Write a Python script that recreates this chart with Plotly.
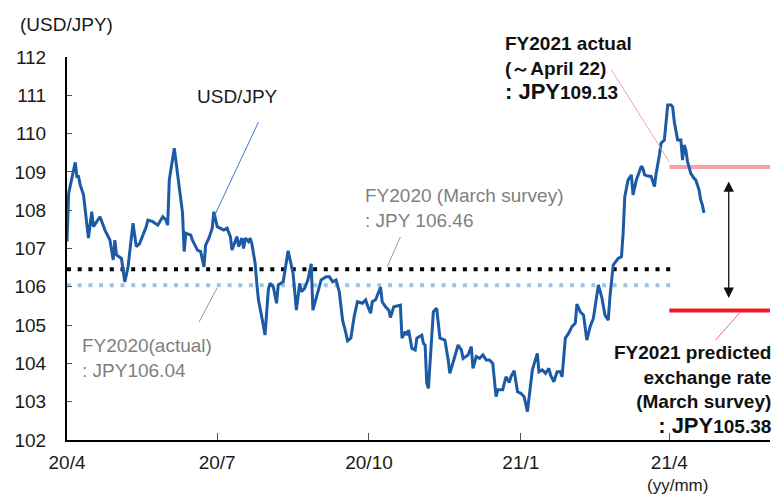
import plotly.graph_objects as go

# Daily USD/JPY rate, April 2020 - April 2021
dates = [
    "2020-04-01", "2020-04-02", "2020-04-06", "2020-04-07", "2020-04-08", "2020-04-09", "2020-04-11",
    "2020-04-14", "2020-04-16", "2020-04-17", "2020-04-21", "2020-04-24", "2020-04-27", "2020-04-29",
    "2020-04-30", "2020-05-01", "2020-05-04", "2020-05-06", "2020-05-08", "2020-05-11", "2020-05-13",
    "2020-05-15", "2020-05-19", "2020-05-20", "2020-05-23", "2020-05-26", "2020-05-29", "2020-05-31",
    "2020-06-01", "2020-06-02", "2020-06-05", "2020-06-07", "2020-06-10", "2020-06-11", "2020-06-12",
    "2020-06-15", "2020-06-16", "2020-06-18", "2020-06-19", "2020-06-21", "2020-06-23", "2020-06-24",
    "2020-06-26", "2020-06-28", "2020-06-29", "2020-07-01", "2020-07-03", "2020-07-05", "2020-07-07",
    "2020-07-09", "2020-07-10", "2020-07-12", "2020-07-13", "2020-07-14", "2020-07-16", "2020-07-17",
    "2020-07-18", "2020-07-20", "2020-07-21", "2020-07-22", "2020-07-24", "2020-07-25", "2020-07-26",
    "2020-07-28", "2020-07-30", "2020-08-01", "2020-08-02", "2020-08-04", "2020-08-06", "2020-08-07",
    "2020-08-10", "2020-08-13", "2020-08-16", "2020-08-18", "2020-08-20", "2020-08-21", "2020-08-23",
    "2020-08-25", "2020-08-27", "2020-08-28", "2020-08-31", "2020-09-02", "2020-09-05", "2020-09-07",
    "2020-09-09", "2020-09-11", "2020-09-13", "2020-09-15", "2020-09-17", "2020-09-18", "2020-09-20",
    "2020-09-22", "2020-09-24", "2020-09-27", "2020-09-29", "2020-09-30", "2020-10-02", "2020-10-03",
    "2020-10-05", "2020-10-06", "2020-10-08", "2020-10-09", "2020-10-11", "2020-10-13", "2020-10-14",
    "2020-10-16", "2020-10-20", "2020-10-21", "2020-10-23", "2020-10-24", "2020-10-25", "2020-10-27",
    "2020-10-29", "2020-10-30", "2020-11-02", "2020-11-03", "2020-11-04", "2020-11-05", "2020-11-06",
    "2020-11-09", "2020-11-11", "2020-11-13", "2020-11-16", "2020-11-18", "2020-11-19", "2020-11-22",
    "2020-11-24", "2020-11-26", "2020-11-27", "2020-11-30", "2020-12-02", "2020-12-03", "2020-12-05",
    "2020-12-07", "2020-12-09", "2020-12-11", "2020-12-13", "2020-12-15", "2020-12-17", "2020-12-18",
    "2020-12-21", "2020-12-23", "2020-12-25", "2020-12-26", "2020-12-28", "2020-12-30", "2021-01-01",
    "2021-01-03", "2021-01-05", "2021-01-08", "2021-01-11", "2021-01-12", "2021-01-14", "2021-01-16",
    "2021-01-18", "2021-01-19", "2021-01-21", "2021-01-23", "2021-01-25", "2021-01-26", "2021-01-28",
    "2021-01-30", "2021-02-01", "2021-02-03", "2021-02-04", "2021-02-06", "2021-02-08", "2021-02-10",
    "2021-02-12", "2021-02-14", "2021-02-15", "2021-02-17", "2021-02-19", "2021-02-21", "2021-02-23",
    "2021-02-24", "2021-02-26", "2021-03-01", "2021-03-03", "2021-03-04", "2021-03-05", "2021-03-07",
    "2021-03-09", "2021-03-10", "2021-03-12", "2021-03-15", "2021-03-16", "2021-03-17", "2021-03-19",
    "2021-03-21", "2021-03-23", "2021-03-24", "2021-03-26", "2021-03-27", "2021-03-29", "2021-03-31",
    "2021-04-02", "2021-04-03", "2021-04-04", "2021-04-06", "2021-04-08", "2021-04-09", "2021-04-10",
    "2021-04-11", "2021-04-12", "2021-04-14", "2021-04-16", "2021-04-17", "2021-04-19", "2021-04-20",
    "2021-04-21", "2021-04-22",
]
usdjpy = [
    107.18, 108.44, 109.25, 108.88, 108.88, 108.66, 108.40,
    107.27, 107.96, 107.57, 107.83, 107.48, 107.22, 106.70,
    107.22, 106.83, 106.74, 106.13, 106.52, 107.66, 107.05,
    107.13, 107.57, 107.74, 107.70, 107.61, 107.83, 107.74,
    107.61, 108.79, 109.62, 108.97, 107.93, 106.92, 107.40,
    107.35, 107.22, 107.05, 106.96, 106.92, 106.52, 107.09,
    107.27, 107.53, 107.96, 107.57, 107.53, 107.48, 107.53,
    107.31, 106.96, 107.22, 107.31, 107.05, 107.27, 107.00,
    107.27, 107.18, 107.27, 107.13, 106.61, 106.09, 105.66,
    105.22, 104.74, 105.92, 106.09, 106.00, 105.57, 106.05,
    106.13, 106.94, 106.35, 105.39, 106.09, 105.87, 105.96,
    106.18, 106.60, 105.39, 105.87, 106.18, 106.26, 106.26,
    106.13, 106.18, 105.87, 105.13, 104.79, 104.59, 104.66,
    105.22, 105.61, 105.57, 105.66, 105.52, 105.31, 105.61,
    105.66, 105.79, 105.99, 105.61, 105.48, 105.39, 105.20,
    105.48, 105.52, 104.66, 104.83, 104.74, 104.87, 104.39,
    104.35, 104.66, 104.74, 104.52, 104.48, 103.48, 103.35,
    105.35, 105.44, 104.66, 104.61, 104.09, 103.74, 104.18,
    104.48, 104.35, 104.13, 104.22, 104.44, 103.87, 104.18,
    104.13, 104.22, 104.09, 104.09, 104.00, 103.13, 103.31,
    103.31, 103.65, 103.50, 103.65, 103.81, 103.26, 103.22,
    103.13, 102.74, 103.83, 104.26, 103.78, 103.83, 103.74,
    103.87, 103.70, 103.52, 103.78, 103.78, 103.65, 104.66,
    104.79, 104.96, 105.05, 105.55, 105.35, 105.26, 104.61,
    104.96, 105.18, 105.48, 106.05, 105.74, 105.26, 105.13,
    105.74, 106.57, 106.74, 106.79, 107.40, 108.35, 108.79,
    108.92, 108.40, 108.79, 109.15, 109.09, 108.92, 108.89,
    108.88, 108.62, 108.96, 109.44, 109.75, 109.83, 110.75,
    110.75, 110.70, 110.31, 109.83, 109.83, 109.31, 109.70,
    109.57, 109.27, 108.96, 108.83, 108.79, 108.53, 108.27,
    108.14, 107.93,
]

# Reference rates
fy2020_march_survey = 106.46
fy2020_actual = 106.04
fy2021_actual = 109.13
fy2021_predicted = 105.38

# Axis ticks
x_tickvals = ["2020-04-01", "2020-07-01", "2020-10-01", "2021-01-01", "2021-04-01"]
x_ticktext = ["20/4", "20/7", "20/10", "21/1", "21/4"]
y_tickvals = [102, 103, 104, 105, 106, 107, 108, 109, 110, 111, 112]

X_START = "2020-04-01"
X_END = "2021-06-01"
REF_END = "2021-04-04"
FY21_START = "2021-04-01"

FONT = "Liberation Sans, Arial, sans-serif"
BLUE = "#1C5AA6"
GRAY = "#7F7F7F"

fig = go.Figure()

# FY2020 reference lines (dotted)
fig.add_trace(go.Scatter(
    x=[X_START, REF_END], y=[fy2020_actual, fy2020_actual], mode="lines",
    line=dict(color="#9DC3E6", width=4, dash="4px,6.7px"), hoverinfo="skip"))
fig.add_trace(go.Scatter(
    x=[X_START, REF_END], y=[fy2020_march_survey, fy2020_march_survey], mode="lines",
    line=dict(color="#000000", width=4, dash="4px,6.7px"), hoverinfo="skip"))

# FY2021 levels
fig.add_trace(go.Scatter(
    x=[FY21_START, X_END], y=[fy2021_actual, fy2021_actual], mode="lines",
    line=dict(color="#F4A3AC", width=4), hoverinfo="skip"))
fig.add_trace(go.Scatter(
    x=[FY21_START, X_END], y=[fy2021_predicted, fy2021_predicted], mode="lines",
    line=dict(color="#EE1C25", width=4), hoverinfo="skip"))

# Exchange rate series
fig.add_trace(go.Scatter(
    x=dates, y=usdjpy, mode="lines", name="USD/JPY",
    line=dict(color=BLUE, width=3)))

# Leader lines from labels to the marks
leaders = [
    ("2020-07-26", 110.30, "2020-06-29", 107.82, "#3A78C2"),
    ("2020-10-20", 107.30, "2020-10-12", 106.52, "#999999"),
    ("2020-06-20", 105.08, "2020-07-01", 105.97, "#999999"),
    ("2021-02-25", 111.66, "2021-04-01", 109.26, "#F4A3AC"),
    ("2021-05-14", 105.34, "2021-04-29", 104.61, "#F26B7A"),
]
shapes = []
for x0, y0, x1, y1, c in leaders:
    shapes.append(dict(type="line", xref="x", yref="y", x0=x0, y0=y0, x1=x1, y1=y1,
                       line=dict(color=c, width=1)))

annotations = [
    dict(text="(USD/JPY)", xref="paper", yref="paper", x=-0.0697, y=1.086,
         xanchor="left", yanchor="middle", showarrow=False,
         font=dict(family=FONT, size=19, color="#1a1a1a")),
    dict(text="USD/JPY", xref="paper", yref="paper", x=0.243, y=0.898,
         xanchor="center", yanchor="middle", showarrow=False,
         font=dict(family=FONT, size=19, color="#1a1a1a")),
    dict(text="FY2020 (March survey)<br>: JPY 106.46", xref="paper", yref="paper",
         x=0.421, y=0.607, xanchor="left", yanchor="middle", align="left", showarrow=False,
         font=dict(family=FONT, size=19, color=GRAY)),
    dict(text="FY2020(actual)<br>: JPY106.04", xref="paper", yref="paper",
         x=0.0185, y=0.2128, xanchor="left", yanchor="middle", align="left", showarrow=False,
         font=dict(family=FONT, size=19, color=GRAY)),
    dict(text="<b>FY2021 actual</b><br><b>(～April 22)</b><br>"
              "<b><span style='font-size:22px'>: JPY</span>109.13</b>",
         xref="paper", yref="paper", x=0.620, y=0.971, xanchor="left", yanchor="middle",
         align="left", showarrow=False,
         font=dict(family=FONT, size=19, color="#111111")),
    dict(text="<b>FY2021 predicted</b><br><b>exchange rate</b><br><b>(March survey)</b><br>"
              "<b><span style='font-size:22px'>: JPY</span>105.38</b>",
         xref="paper", yref="paper", x=1.0043, y=0.1305, xanchor="right", yanchor="middle",
         align="right", showarrow=False,
         font=dict(family=FONT, size=19, color="#111111")),
    dict(text="(yy/mm)", xref="paper", yref="paper", x=0.869, y=-0.120,
         xanchor="center", yanchor="middle", showarrow=False,
         font=dict(family=FONT, size=17, color="#1a1a1a")),
    # double-headed gap arrow between actual and predicted
    dict(text="", x="2021-05-07", y=105.71, ax="2021-05-07", ay=108.79,
         xref="x", yref="y", axref="x", ayref="y", showarrow=True,
         arrowhead=2, startarrowhead=2, arrowside="end+start",
         arrowsize=1.6, startarrowsize=1.6, arrowwidth=1.3, arrowcolor="#111111"),
]

fig.update_layout(
    width=778, height=497,
    margin=dict(l=67, r=8, t=57, b=57),
    paper_bgcolor="white", plot_bgcolor="white",
    showlegend=False,
    shapes=shapes,
    annotations=annotations,
    font=dict(family=FONT, size=19, color="#1a1a1a"),
    xaxis=dict(
        type="date", range=[X_START, X_END],
        tickmode="array", tickvals=x_tickvals, ticktext=x_ticktext,
        showgrid=False, zeroline=False,
        showline=True, linecolor="#000000", linewidth=1.5,
        ticks="inside", ticklen=7, tickwidth=1, tickcolor="#555555",
        ticklabelstandoff=4,
        tickfont=dict(family=FONT, size=19, color="#1a1a1a"),
    ),
    yaxis=dict(
        range=[102, 112], tickmode="array", tickvals=y_tickvals,
        showgrid=False, zeroline=False,
        showline=True, linecolor="#000000", linewidth=2,
        ticks="inside", ticklen=5, tickwidth=1, tickcolor="#555555",
        ticklabelstandoff=15,
        tickfont=dict(family=FONT, size=19, color="#1a1a1a"),
    ),
)

fig.write_html("out.html")
